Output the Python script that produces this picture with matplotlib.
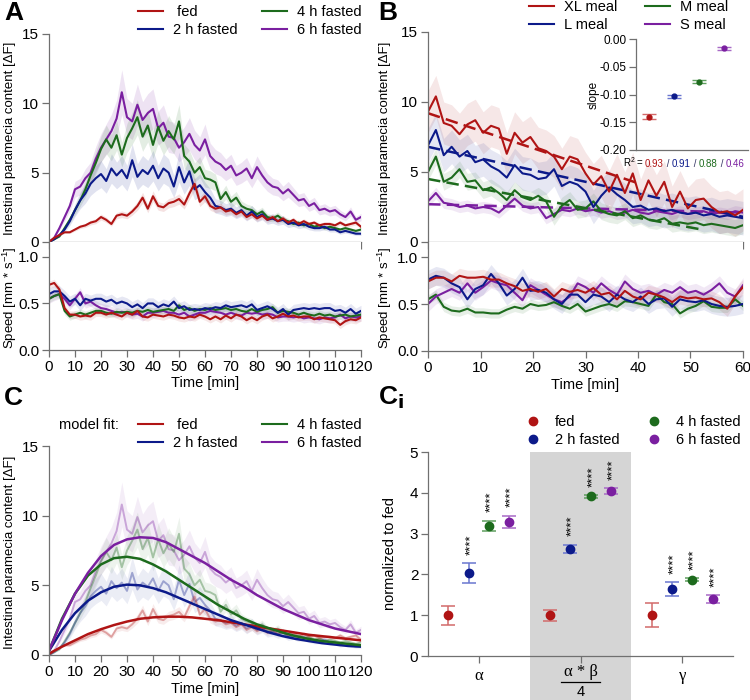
import numpy as np
import matplotlib
matplotlib.use('Agg')
from matplotlib import pyplot as plt
from matplotlib.patches import Rectangle
from matplotlib.lines import Line2D

plt.rcParams['font.family'] = ['Liberation Sans', 'DejaVu Sans']
plt.rcParams['mathtext.fontset'] = 'custom'
plt.rcParams['mathtext.rm'] = 'Liberation Sans'
plt.rcParams['mathtext.it'] = 'Liberation Sans:italic'
plt.rcParams['axes.unicode_minus'] = False

W, H = 750, 700
RED = '#b01414'
BLUE = '#0c1a8a'
GREEN = '#1d6b1d'
PURPLE = '#7a1fa0'
RED_L = '#d26a6a'
BLUE_L = '#6a76d0'
GREEN_L = '#5f9f5f'
PURPLE_L = '#a86ac6'

# ---- panel A: gut content, 0-120 min every 2 min
t_a = np.arange(0, 121, 2)
fed_a = [0.0, 0.3, 0.5, 0.7, 0.7, 0.9, 1.1, 1.2, 1.4, 1.5,
         1.8, 1.6, 1.3, 1.9, 2.0, 1.9, 2.2, 2.6, 3.2, 2.4,
         3.3, 2.6, 2.5, 2.8, 2.9, 3.1, 2.7, 3.5, 4.2, 2.9,
         3.3, 2.6, 2.4, 2.5, 2.2, 2.3, 2.0, 2.2, 1.8, 2.0,
         1.7, 1.9, 1.6, 1.8, 1.5, 1.7, 1.4, 1.6, 1.3, 1.5,
         1.3, 1.4, 1.2, 1.3, 1.3, 1.2, 1.4, 1.2, 1.3, 1.4, 1.1]
h2_a = [0.0, 0.2, 0.5, 0.9, 1.5, 2.3, 3.0, 3.5, 4.2, 4.6,
        4.9, 4.4, 5.3, 4.8, 5.2, 4.6, 5.9, 4.7, 5.2, 4.9,
        5.5, 4.6, 5.3, 5.0, 4.0, 5.4, 4.3, 5.1, 3.8, 4.1,
        3.6, 3.2, 2.6, 2.5, 2.3, 2.4, 2.1, 2.3, 1.9, 2.2,
        1.8, 2.0, 1.6, 1.7, 1.5, 1.6, 1.3, 1.4, 1.2, 1.3,
        1.1, 1.0, 1.0, 1.1, 0.9, 0.9, 0.7, 0.8, 0.7, 0.6, 0.6]
h4_a = [0.0, 0.2, 0.4, 1.0, 1.6, 2.3, 3.0, 3.8, 4.8, 5.7,
        6.7, 7.4, 6.8, 7.7, 6.3, 7.5, 8.2, 9.0, 7.6, 8.4,
        7.0, 8.3, 7.3, 8.0, 7.4, 8.7, 6.2, 5.8, 5.0, 5.4,
        4.6, 4.5, 4.3, 3.1, 3.6, 2.9, 3.2, 2.6, 2.4, 2.3,
        2.0, 2.2, 1.8, 1.7, 1.9, 1.6, 1.5, 1.3, 1.4, 1.2,
        1.3, 1.1, 1.2, 1.0, 1.1, 1.0, 0.9, 1.0, 0.9, 0.8, 0.9]
h6_a = [0.0, 0.3, 1.0, 1.8, 2.6, 3.8, 4.0, 4.6, 5.0, 6.0,
        6.8, 7.4, 8.0, 8.9, 10.8, 9.0, 8.7, 9.9, 8.8, 9.3,
        9.6, 8.2, 8.6, 7.6, 7.5, 6.8, 7.2, 7.8, 7.0, 6.6,
        7.4, 6.2, 5.8, 5.6, 5.2, 5.5, 4.8, 5.0, 5.3, 4.6,
        5.4, 4.8, 4.3, 4.0, 3.9, 3.5, 3.8, 3.4, 3.0, 3.1,
        2.6, 2.8, 2.3, 2.4, 2.2, 2.3, 2.0, 1.8, 2.2, 1.6, 1.8]
rel_err_a = [0.12, 0.2, 0.14, 0.15]

fed_sa = [0.70, 0.72, 0.65, 0.45, 0.38, 0.38, 0.36, 0.37, 0.36, 0.40,
          0.40, 0.38, 0.40, 0.38, 0.36, 0.40, 0.38, 0.42, 0.36, 0.35,
          0.38, 0.37, 0.36, 0.38, 0.37, 0.35, 0.34, 0.36, 0.35, 0.38,
          0.36, 0.33, 0.36, 0.33, 0.37, 0.34, 0.38, 0.36, 0.32, 0.35,
          0.32, 0.36, 0.38, 0.34, 0.36, 0.39, 0.36, 0.37, 0.35, 0.36,
          0.36, 0.33, 0.35, 0.34, 0.33, 0.32, 0.27, 0.31, 0.33, 0.32, 0.35]
h2_sa = [0.60, 0.63, 0.63, 0.58, 0.52, 0.55, 0.48, 0.55, 0.53, 0.55,
         0.55, 0.52, 0.54, 0.50, 0.52, 0.50, 0.46, 0.49, 0.45, 0.50,
         0.50, 0.46, 0.49, 0.47, 0.52, 0.45, 0.47, 0.43, 0.44, 0.43,
         0.45, 0.44, 0.46, 0.45, 0.48, 0.46, 0.47, 0.48, 0.46, 0.49,
         0.43, 0.45, 0.47, 0.44, 0.40, 0.44, 0.38, 0.43, 0.44, 0.45,
         0.44, 0.45, 0.44, 0.45, 0.45, 0.42, 0.43, 0.40, 0.44, 0.39, 0.42]
h4_sa = [0.55, 0.58, 0.60, 0.42, 0.36, 0.38, 0.40, 0.38, 0.40, 0.42,
         0.42, 0.40, 0.39, 0.41, 0.40, 0.41, 0.40, 0.42, 0.41, 0.43,
         0.41, 0.42, 0.43, 0.44, 0.42, 0.48, 0.43, 0.45, 0.42, 0.44,
         0.43, 0.45, 0.43, 0.44, 0.45, 0.43, 0.44, 0.42, 0.41, 0.44,
         0.41, 0.43, 0.44, 0.46, 0.40, 0.42, 0.41, 0.40, 0.38, 0.40,
         0.38, 0.37, 0.39, 0.37, 0.38, 0.36, 0.37, 0.38, 0.36, 0.37, 0.38]
h6_sa = [0.55, 0.58, 0.60, 0.55, 0.48, 0.55, 0.62, 0.50, 0.52, 0.48,
         0.45, 0.44, 0.42, 0.40, 0.41, 0.40, 0.38, 0.39, 0.36, 0.40,
         0.40, 0.41, 0.42, 0.40, 0.40, 0.38, 0.40, 0.36, 0.38, 0.40,
         0.40, 0.42, 0.41, 0.40, 0.38, 0.40, 0.38, 0.37, 0.40, 0.39,
         0.40, 0.38, 0.39, 0.38, 0.35, 0.36, 0.36, 0.35, 0.36, 0.34,
         0.35, 0.34, 0.33, 0.35, 0.34, 0.35, 0.38, 0.34, 0.36, 0.35, 0.36]
speed_err_a = [0.04, 0.06, 0.04, 0.05]

# ---- panel B: meal sizes, 0-60 min every 1.5 min
t_b = np.arange(0, 60.1, 1.5)
xl_b = [9.3, 10.4, 8.5, 8.3, 7.7, 8.4, 8.7, 7.8, 8.3, 8.1,
        6.3, 7.8, 7.1, 7.5, 6.7, 6.5, 6.1, 5.2, 6.1, 5.9,
        4.9, 4.1, 4.7, 3.6, 4.8, 3.5, 4.9, 3.0, 4.4, 3.3,
        4.3, 2.5, 3.6, 2.4, 3.0, 3.1, 2.5, 2.1, 2.2, 1.9, 2.3]
l_b = [6.9, 8.0, 6.2, 6.8, 6.1, 6.5, 5.7, 5.9, 5.4, 5.1,
       4.6, 5.5, 4.9, 4.8, 4.5, 4.6, 5.2, 4.0, 4.3, 4.1,
       3.6, 2.5, 3.3, 3.9, 3.4, 3.0, 2.5, 2.6, 2.3, 2.4,
       2.2, 2.3, 2.1, 2.0, 2.1, 1.9, 2.0, 1.8, 1.9, 1.8, 1.7]
m_b = [5.0, 6.1, 4.3, 4.6, 5.2, 4.3, 4.4, 3.7, 3.9, 3.5,
       3.0, 3.7, 3.2, 3.0, 3.3, 2.9, 1.8, 2.6, 3.0, 2.3,
       2.4, 2.9, 2.2, 2.0, 1.9, 2.2, 1.7, 1.9, 1.6, 1.5,
       1.7, 1.3, 1.4, 1.3, 1.4, 1.2, 1.3, 1.2, 1.1, 1.0, 1.2]
s_b = [2.9, 3.5, 2.8, 2.7, 2.5, 2.6, 2.4, 2.5, 2.4, 2.1,
       2.6, 3.1, 2.6, 2.4, 2.5, 1.7, 2.0, 2.3, 2.2, 2.4,
       2.2, 2.3, 2.1, 2.2, 2.0, 2.1, 2.3, 2.1, 2.0, 2.2,
       2.1, 2.0, 2.2, 2.0, 2.1, 2.2, 2.0, 2.1, 2.0, 2.2, 2.1]
err_b = [1.5, 1.2, 0.6, 0.4]
# linear fits: (t start, t end), (value start, value end)
fit_t_b = [(0, 40), (0, 60), (0, 52), (0, 60)]
fit_v_b = [(9.2, 4.2), (6.8, 1.8), (4.5, 0.9), (2.7, 2.1)]

xl_sb = [0.74, 0.78, 0.78, 0.74, 0.80, 0.78, 0.78, 0.79, 0.76, 0.76,
         0.72, 0.69, 0.64, 0.66, 0.63, 0.66, 0.58, 0.66, 0.63, 0.65,
         0.62, 0.67, 0.60, 0.62, 0.55, 0.64, 0.58, 0.55, 0.62, 0.60,
         0.57, 0.52, 0.58, 0.56, 0.57, 0.55, 0.56, 0.52, 0.45, 0.58, 0.68]
l_sb = [0.76, 0.80, 0.78, 0.72, 0.68, 0.55, 0.66, 0.70, 0.82, 0.72,
        0.59, 0.66, 0.78, 0.64, 0.65, 0.62, 0.55, 0.50, 0.60, 0.60,
        0.52, 0.60, 0.58, 0.52, 0.60, 0.55, 0.52, 0.58, 0.50, 0.55,
        0.56, 0.47, 0.55, 0.53, 0.52, 0.54, 0.50, 0.48, 0.47, 0.48, 0.50]
m_sb = [0.55, 0.60, 0.47, 0.43, 0.42, 0.45, 0.41, 0.41, 0.40, 0.40,
        0.44, 0.47, 0.45, 0.50, 0.48, 0.49, 0.52, 0.48, 0.45, 0.50,
        0.42, 0.45, 0.48, 0.50, 0.47, 0.53, 0.52, 0.50, 0.48, 0.60,
        0.52, 0.50, 0.40, 0.45, 0.48, 0.53, 0.47, 0.46, 0.46, 0.55, 0.48]
s_sb = [0.50, 0.58, 0.62, 0.66, 0.62, 0.72, 0.62, 0.68, 0.75, 0.72,
        0.70, 0.62, 0.54, 0.70, 0.65, 0.60, 0.55, 0.52, 0.58, 0.72,
        0.68, 0.62, 0.72, 0.65, 0.60, 0.74, 0.66, 0.62, 0.64, 0.60,
        0.65, 0.62, 0.68, 0.62, 0.64, 0.60, 0.65, 0.72, 0.62, 0.58, 0.70]
speed_err_b = [0.08, 0.1, 0.05, 0.08]

slope = [-0.140, -0.103, -0.077, -0.017]
slope_err = [0.004, 0.003, 0.003, 0.003]
r2 = ['0.93', '0.91', '0.88', '0.46']

# ---- panel C: model fits, every 5 min
t_c = np.arange(0, 121, 5)
fed_fit = [0.1, 0.6, 1.05, 1.5, 1.85, 2.15, 2.4, 2.6, 2.7, 2.75, 2.75, 2.7, 2.6,
           2.5, 2.35, 2.2, 2.05, 1.9, 1.75, 1.6, 1.45, 1.35, 1.25, 1.15, 1.05]
h2_fit = [0.3, 1.8, 3.0, 3.9, 4.5, 4.9, 5.05, 5.0, 4.8, 4.5, 4.1, 3.7, 3.3,
          2.9, 2.5, 2.2, 1.9, 1.6, 1.35, 1.15, 1.0, 0.85, 0.75, 0.65, 0.6]
h4_fit = [0.3, 2.6, 4.4, 5.7, 6.5, 6.95, 7.05, 6.9, 6.5, 6.0, 5.4, 4.8, 4.2,
          3.6, 3.1, 2.6, 2.2, 1.9, 1.6, 1.35, 1.15, 1.0, 0.9, 0.8, 0.7]
h6_fit = [0.3, 2.5, 4.4, 5.9, 7.1, 7.9, 8.3, 8.45, 8.4, 8.1, 7.6, 7.1, 6.6,
          6.0, 5.4, 4.9, 4.3, 3.8, 3.3, 2.9, 2.5, 2.2, 1.9, 1.7, 1.5]

# ---- panel Ci: parameters normalised to fed
norm_fed = [1.0, 1.0, 1.0]
norm_h2 = [2.03, 2.63, 1.64]
norm_h4 = [3.19, 3.91, 1.87]
norm_h6 = [3.29, 4.05, 1.40]
err_fed = [0.23, 0.13, 0.30]
err_h2 = [0.25, 0.10, 0.17]
err_h4 = [0.13, 0.04, 0.04]
err_h6 = [0.15, 0.07, 0.10]

fasting_labels = [' fed', '2 h fasted', '4 h fasted', '6 h fasted']
meal_labels = ['XL meal', 'L meal', 'M meal', 'S meal']
colors = [RED, BLUE, GREEN, PURPLE]
light = [RED_L, BLUE_L, GREEN_L, PURPLE_L]
SERIF = ['Liberation Serif', 'DejaVu Sans']

fig = plt.figure(figsize=(W / 100, H / 100), dpi=100)


def px_axes(l, t, r, b):
    return fig.add_axes([l / W, 1 - b / H, (r - l) / W, (b - t) / H])


def style(ax, size=11):
    for s in ['top', 'right']:
        ax.spines[s].set_visible(False)
    for s in ['left', 'bottom']:
        ax.spines[s].set_color('#707070')
        ax.spines[s].set_linewidth(0.9)
    ax.tick_params(direction='out', length=5, width=0.9, color='#707070',
                   labelsize=size, pad=2)


def ylabel_at(ax, text, x_px, y_px, size=9.5):
    # x_px is the centre of the rotated label
    ax.set_ylabel(text, fontsize=size, va='center')
    ax.yaxis.set_label_coords(x_px / W, 1 - y_px / H, transform=fig.transFigure)


# ================= A =================
axA = px_axes(49, 34, 361, 242)
style(axA)
series_a = [fed_a, h2_a, h4_a, h6_a]
for i in [3, 2, 1, 0]:
    v = np.array(series_a[i])
    axA.fill_between(t_a, v * (1 - rel_err_a[i]), v * (1 + rel_err_a[i]),
                     color=colors[i], alpha=0.12, lw=0)
for i in [3, 2, 1, 0]:
    axA.plot(t_a, series_a[i], color=colors[i], lw=1.5)
axA.set_xlim(0, 120)
axA.set_ylim(0, 15)
axA.set_xticks(range(0, 121, 10))
axA.set_xticklabels([])
axA.set_yticks([0, 5, 10, 15])
ylabel_at(axA, 'Intestinal paramecia content [ΔF]', 10, 138)

axAs = px_axes(49, 242, 361, 350)
style(axAs)
speeds_a = [fed_sa, h2_sa, h4_sa, h6_sa]
for i in [3, 2, 1, 0]:
    v = np.array(speeds_a[i])
    axAs.fill_between(t_a, v - speed_err_a[i], v + speed_err_a[i],
                      color=colors[i], alpha=0.1, lw=0)
for i in [3, 2, 1, 0]:
    axAs.plot(t_a, speeds_a[i], color=colors[i], lw=1.5)
axAs.set_xlim(0, 120)
axAs.set_ylim(0, 1.16)
axAs.set_yticks([0, 0.5, 1.0])
axAs.set_yticklabels(['0.0', '0.5', '1.0'])
axAs.set_xticks(range(0, 121, 10))
axAs.set_xlabel('Time [min]', fontsize=10.5, labelpad=2)
ylabel_at(axAs, 'Speed [mm * s$^{-1}$]', 10, 298)

legA = [Line2D([], [], color=c, lw=1.5) for c in colors]
fig.legend(legA, fasting_labels, loc='upper left', bbox_to_anchor=(138 / W, 1 - 5 / H),
           ncol=2, frameon=False, handlelength=1.7, handletextpad=0.7,
           columnspacing=1.7, labelspacing=0.3, borderpad=0, borderaxespad=0,
           fontsize=10.5)

# ================= B =================
axB = px_axes(428, 32, 743, 242)
style(axB)
series_b = [xl_b, l_b, m_b, s_b]
for i in range(4):
    v = np.array(series_b[i])
    axB.fill_between(t_b, v - err_b[i], v + err_b[i], color=colors[i], alpha=0.1, lw=0)
for i in [3, 2, 1, 0]:
    axB.plot(t_b, series_b[i], color=colors[i], lw=1.5)
    axB.plot(fit_t_b[i], fit_v_b[i], color=colors[i], lw=1.8, ls=(0, (5, 2.5)))
axB.set_xlim(0, 60)
axB.set_ylim(0, 15)
axB.set_xticks(range(0, 61, 10))
axB.set_xticklabels([])
axB.set_yticks([0, 5, 10, 15])
ylabel_at(axB, 'Intestinal paramecia content [ΔF]', 385, 138)

axBs = px_axes(428, 242, 743, 351)
style(axBs)
speeds_b = [xl_sb, l_sb, m_sb, s_sb]
for i in range(4):
    v = np.array(speeds_b[i])
    axBs.fill_between(t_b, v - speed_err_b[i], v + speed_err_b[i],
                      color=colors[i], alpha=0.1, lw=0)
for i in [2, 3, 1, 0]:
    axBs.plot(t_b, speeds_b[i], color=colors[i], lw=1.5)
axBs.set_xlim(0, 60)
axBs.set_ylim(0, 1.16)
axBs.set_yticks([0, 0.5, 1.0])
axBs.set_yticklabels(['0.0', '0.5', '1.0'])
axBs.set_xticks(range(0, 61, 10))
axBs.set_xlabel('Time [min]', fontsize=10.5, labelpad=2)
ylabel_at(axBs, 'Speed [mm * s$^{-1}$]', 385, 298)

fig.legend(legA, meal_labels, loc='upper left', bbox_to_anchor=(529 / W, 1 - 0 / H),
           ncol=2, frameon=False, handlelength=1.7, handletextpad=0.7,
           columnspacing=1.9, labelspacing=0.3, borderpad=0, borderaxespad=0,
           fontsize=10.5)

# inset
axI = px_axes(636, 39, 748, 150)
style(axI, size=8.5)
for i in range(4):
    axI.errorbar(i, slope[i], yerr=slope_err[i], fmt='o', color=colors[i],
                 ecolor=light[i], markersize=3.5, capsize=5, elinewidth=1, capthick=1)
axI.set_xlim(-0.52, 3.96)
axI.set_ylim(-0.2, 0.0)
axI.set_xticks([])
axI.set_yticks([-0.2, -0.15, -0.1, -0.05, 0.0])
axI.set_yticklabels(['-0.20', '-0.15', '-0.10', '-0.05', '0.00'])
ylabel_at(axI, 'slope', 594, 95, size=8.5)

t0 = fig.text(623 / W, 1 - 162 / H, 'R$^2$ = ', fontsize=7, va='center')
prev = t0
for i in range(4):
    prev = axI.annotate(r2[i], xy=(1, 0), xycoords=prev, va='bottom',
                        color=colors[i], fontsize=7)
    if i < 3:
        prev = axI.annotate(' / ', xy=(1, 0), xycoords=prev, va='bottom',
                            color='#303060', fontsize=7)

# ================= C =================
axC = px_axes(49, 446, 361, 655)
style(axC)
fits = [fed_fit, h2_fit, h4_fit, h6_fit]
for i in [3, 2, 1, 0]:
    v = np.array(series_a[i])
    axC.fill_between(t_a, v * (1 - rel_err_a[i]), v * (1 + rel_err_a[i]),
                     color=colors[i], alpha=0.08, lw=0)
    axC.plot(t_a, series_a[i], color=colors[i], lw=1.4, alpha=0.35)
for i in range(4):
    axC.plot(t_c, fits[i], color=colors[i], lw=1.8)
axC.set_xlim(0, 120)
axC.set_ylim(0, 15)
axC.set_xticks(range(0, 121, 10))
axC.set_yticks([0, 5, 10, 15])
axC.set_xlabel('Time [min]', fontsize=10.5, labelpad=2)
ylabel_at(axC, 'Intestinal paramecia content [ΔF]', 10, 552)

fig.text(59 / W, 1 - 425 / H, 'model fit:', fontsize=10.5, va='center')
fig.legend(legA, fasting_labels, loc='upper left', bbox_to_anchor=(138 / W, 1 - 418 / H),
           ncol=2, frameon=False, handlelength=1.7, handletextpad=0.7,
           columnspacing=1.7, labelspacing=0.3, borderpad=0, borderaxespad=0,
           fontsize=10.5)

# ================= Ci =================
axD = px_axes(428, 452, 733, 656)
style(axD)
axD.add_patch(Rectangle((0.5, -1.3), 1.0, 6.3, facecolor='#d5d5d5', edgecolor='none',
                        clip_on=False, zorder=0))
groups = [(norm_fed, err_fed), (norm_h2, err_h2), (norm_h4, err_h4), (norm_h6, err_h6)]
offsets = [-0.3, -0.1, 0.1, 0.3]
x = np.arange(3)
for i, (vals, errs) in enumerate(groups):
    axD.errorbar(x + offsets[i], vals, yerr=errs, fmt='o', color=colors[i],
                 ecolor=light[i], markersize=6, capsize=5, elinewidth=1.1, capthick=1.1,
                 zorder=3)
    if i > 0:
        for k in range(3):
            axD.text(x[k] + offsets[i] + 0.02, vals[k] + errs[k] + 0.2, '****',
                     rotation=90, ha='center', va='bottom', fontsize=9.5)
axD.set_xlim(-0.5, 2.5)
axD.set_ylim(0, 5)
axD.set_yticks(range(0, 6))
axD.set_xticks(x)
axD.set_xticklabels(['α', '', 'γ'], family=SERIF, fontsize=12)
axD.tick_params(axis='x', pad=4)
# fraction label for the middle group
lab_tr = axD.get_xaxis_transform()
axD.text(1, -0.08, 'α * β', transform=lab_tr, ha='center', va='center',
         family=SERIF, fontsize=12)
axD.add_line(Line2D([0.81, 1.19], [-0.125, -0.125], transform=lab_tr, color='black',
                    lw=0.9, clip_on=False))
axD.text(1, -0.175, '4', transform=lab_tr, ha='center', va='center', fontsize=10.5)
ylabel_at(axD, 'normalized to fed', 390, 554, size=10.5)

legD = [Line2D([], [], color=c, marker='o', ls='none', markersize=6) for c in colors]
fig.legend(legD, ['fed', '2 h fasted', '4 h fasted', '6 h fasted'], loc='upper left',
           bbox_to_anchor=(524 / W, 1 - 415 / H), ncol=2, frameon=False,
           handlelength=1.2, handletextpad=0.9, columnspacing=1.8, labelspacing=0.3,
           borderpad=0, borderaxespad=0, fontsize=10.5)

# panel letters
fig.text(4 / W, 1 - 13 / H, 'A', fontsize=19, fontweight='bold', va='center')
fig.text(378 / W, 1 - 13 / H, 'B', fontsize=19, fontweight='bold', va='center')
fig.text(4 / W, 1 - 398 / H, 'C', fontsize=19, fontweight='bold', va='center')
fig.text(378 / W, 1 - 398 / H, r'C$_\mathbf{i}$', fontsize=19, fontweight='bold',
         va='center')

fig.savefig('out.png', dpi=100)
